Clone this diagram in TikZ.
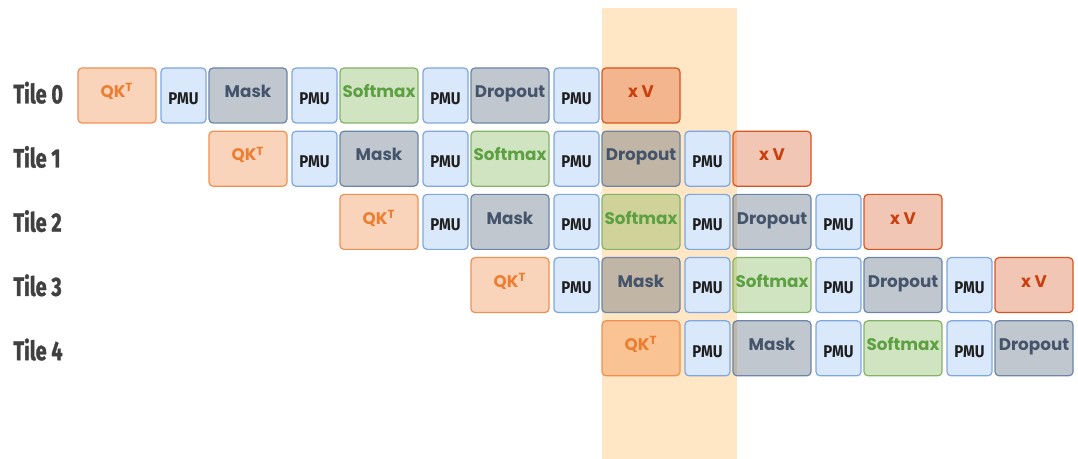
\documentclass[tikz,border=0pt]{standalone}
\usepackage{fontspec}
\setmainfont{Poppins}
\newfontfamily\tilefont[FakeStretch=0.75, BoldFeatures={FakeBold=1.2}]{Fira Sans}
\newfontfamily\pmufont[FakeStretch=0.88]{Fira Sans}
\usetikzlibrary{positioning}
\definecolor{hlorange}{HTML}{FFE6C4}
\definecolor{qkbase}{HTML}{ED7D31}
\definecolor{graybase}{HTML}{44546A}
\definecolor{grayline}{HTML}{6A85A8}
\definecolor{softbase}{HTML}{70AD47}
\definecolor{softline}{HTML}{82B366}
\definecolor{softtext}{HTML}{5DA042}
\definecolor{xvbase}{HTML}{D9531E}
\definecolor{xvtext}{HTML}{C9400E}
\definecolor{pmufill}{HTML}{DAE8FC}
\definecolor{pmuline}{HTML}{7EA6E0}
\definecolor{pmutext}{HTML}{1F1F1F}
\definecolor{tiletext}{HTML}{404040}

\tikzset{
  stage/.style={draw, rounded corners=2pt, line width=0.6pt, minimum width=39pt,
    minimum height=27.5pt, inner sep=0pt, fill opacity=0.33, text opacity=1,
    font=\bfseries\fontsize{8.4}{10}\selectfont, text height=5.9pt, text depth=3.75pt},
  qkbox/.style={stage, draw=qkbase!85, fill=qkbase, text=qkbase},
  graybox/.style={stage, draw=grayline, fill=graybase, text=graybase},
  softbox/.style={stage, draw=softline, fill=softbase, text=softtext},
  xvbox/.style={stage, draw=xvbase, fill=xvbase, text=xvtext},
  pmubox/.style={draw=pmuline, fill=pmufill, rounded corners=2pt, line width=0.6pt,
    minimum width=22.5pt, minimum height=27.5pt, inner sep=0pt, text=pmutext,
    font=\pmufont\bfseries\fontsize{8.5}{10}\selectfont, text height=8.8pt, text depth=0pt},
  tilelbl/.style={anchor=base west, inner sep=0pt, text=tiletext,
    font=\tilefont\bfseries\fontsize{13.3}{15}\selectfont}
}

\begin{document}
\begin{tikzpicture}[x=0.5pt, y=-0.5pt]
  \useasboundingbox (0,0) rectangle (1078,459);
  % column in flight
  \fill[hlorange] (602,8) rectangle (737,459);
  \foreach \r in {0,...,4} {
    \node[tilelbl] (tile\r) at (13, {103.3+\r*64.2}) {Tile \r};
    \foreach \id/\sty/\txt [count=\j from 0] in {qk/qkbox/{QK\textsuperscript{T}}, mask/graybox/Mask, soft/softbox/Softmax, drop/graybox/Dropout, xv/xvbox/x V} {
      \pgfmathtruncatemacro\c{\r+\j}
      \ifnum\c<8\relax
        \node[\sty] (t\r-\id) at ({117+131*\c}, {95.5+63.2*\r}) {\txt};
      \fi
      \ifnum\c<7\relax
        \ifnum\j<4\relax
          \node[pmubox] (t\r-pmu\j) at ({183.5+131*\c}, {95.5+63.2*\r}) {PMU};
        \fi
      \fi
    }
  }
\end{tikzpicture}
\end{document}
